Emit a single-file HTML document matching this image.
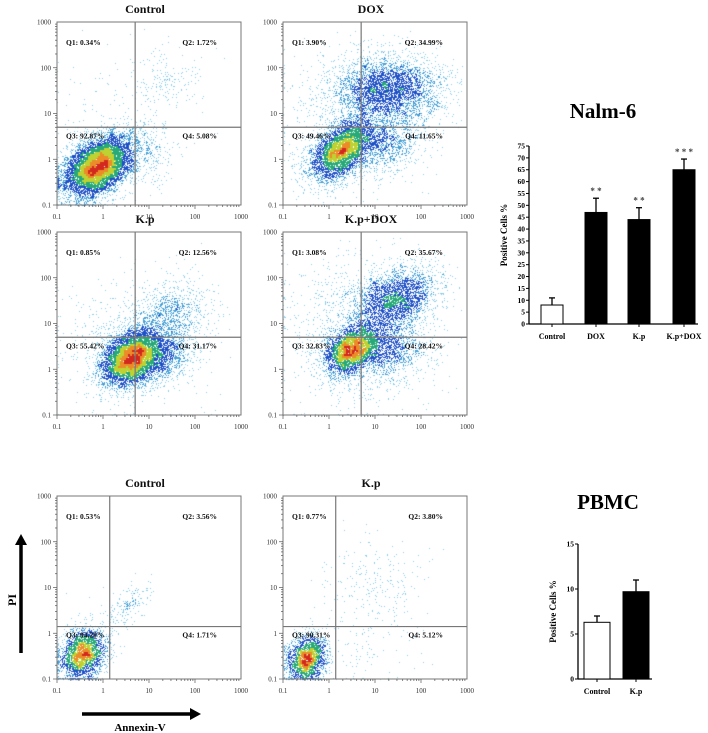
<!DOCTYPE html>
<html><head><meta charset="utf-8"><style>
html,body{margin:0;padding:0;background:#fff;}
#wrap{position:relative;width:708px;height:733px;overflow:hidden;}
canvas,svg{position:absolute;left:0;top:0;}
text{font-family:"Liberation Serif",serif;}
</style></head><body>
<div id="wrap">
<canvas id="dots" width="708" height="733"></canvas>
<svg id="fig" width="708" height="733" xmlns="http://www.w3.org/2000/svg"></svg>
</div>
<script>
// ===== Flow panels data =====
const panelTitles = ["Control","DOX","K.p","K.p+DOX","Control","K.p"];
const panelX = [57,283,57,283,57,283];
const panelY = [22,22,232,232,496,496];
const gateX = [5,5,5,5,1.4,1.4];
const gateY = [5,5,5,5,1.4,1.4];
const q1Labels = ["Q1: 0.34%","Q1: 3.90%","Q1: 0.85%","Q1: 3.08%","Q1: 0.53%","Q1: 0.77%"];
const q2Labels = ["Q2: 1.72%","Q2: 34.99%","Q2: 12.56%","Q2: 35.67%","Q2: 3.56%","Q2: 3.80%"];
const q3Labels = ["Q3: 92.87%","Q3: 49.46%","Q3: 55.42%","Q3: 32.83%","Q3: 94.20%","Q3: 90.31%"];
const q4Labels = ["Q4: 5.08%","Q4: 11.65%","Q4: 31.17%","Q4: 28.42%","Q4: 1.71%","Q4: 5.12%"];
// clusters per panel (log10 coordinates): centre x, centre y, sd x, sd y, correlation, count
const clCx = [[-0.12,1.35,0.9,0.3],[0.25,1.3,1.2,0.6],[0.6,1.5,1.2,0.6],[0.5,1.45,1.3,0.7],[-0.45,0.5,-0.5],[-0.5,1.0,0.8]];
const clCy = [[-0.15,1.7,0.1,1.0],[0.2,1.55,0.4,0.9],[0.25,1.25,0.3,0.6],[0.45,1.55,0.4,0.8],[-0.45,0.55,-0.3],[-0.55,1.2,-0.2]];
const clSx = [[0.36,0.4,0.35,0.8],[0.35,0.6,0.45,0.8],[0.32,0.4,0.4,0.8],[0.3,0.45,0.4,0.8],[0.25,0.3,0.5],[0.22,0.6,0.6]];
const clSy = [[0.32,0.3,0.35,0.8],[0.33,0.35,0.35,0.8],[0.3,0.35,0.3,0.8],[0.27,0.35,0.35,0.8],[0.28,0.3,0.5],[0.25,0.5,0.6]];
const clRho = [[0.4,0,0,0],[0.5,0,0.3,0],[0.3,0.2,0.2,0],[0.4,0.3,0.2,0],[0.2,0.7,0],[0.2,0,0]];
const clN = [[8000,180,350,150],[4000,3200,1000,900],[5500,800,1400,600],[3200,2400,1000,1300],[2400,180,40],[2100,220,120]];

// ===== Bar chart data =====
const nalmCats = ["Control","DOX","K.p","K.p+DOX"];
const nalmVals = [8,47,44,65];
const nalmErr = [3,6,5,4.5];
const nalmStars = ["","* *","* *","* * *"];
const nalmTicks = [0,5,10,15,20,25,30,35,40,45,50,55,60,65,70,75];
const pbmcCats = ["Control","K.p"];
const pbmcVals = [6.3,9.7];
const pbmcErr = [0.7,1.3];
const pbmcTicks = [0,5,10,15];
const xTickLabels = ["0.1","1","10","100","1000"];

const NS="http://www.w3.org/2000/svg";
const svg=document.getElementById('fig');
function el(tag,attrs,parent){const e=document.createElementNS(NS,tag);for(const k in attrs)e.setAttribute(k,attrs[k]);(parent||svg).appendChild(e);return e;}
function txt(s,attrs,parent){const e=el('text',attrs,parent);e.textContent=s;return e;}

const W=184,H=183,DEC=W/4,DECY=H/4;
let seed=12345;function rnd(){seed=(seed*1664525+1013904223)>>>0;return seed/4294967296;}
function gauss(){let u=rnd()||1e-9,v=rnd();return Math.sqrt(-2*Math.log(u))*Math.cos(2*Math.PI*v);}
const ctx=document.getElementById('dots').getContext('2d');

function colorFor(t){
 if(t<0.45)return [140,205,230];
 if(t<0.62)return [70,160,215];
 if(t<0.78)return [30,80,200];
 if(t<0.87)return [40,170,120];
 if(t<0.93)return [190,210,50];
 if(t<0.97)return [235,140,40];
 return [210,40,30];
}

for(let p=0;p<6;p++){
 const x0=panelX[p],y0=panelY[p];
 const g=el('g',{},svg);
 
 
 const sx=v=>x0+(Math.log10(v)+1)*DEC;
 const sy=v=>y0+H-(Math.log10(v)+1)*DECY;
 const sxl=l=>x0+(l+1)*DEC, syl=l=>y0+H-(l+1)*DECY;
 const pts=[];
 for(let c=0;c<clN[p].length;c++){
  const r=clRho[p][c];
  for(let i=0;i<clN[p][c];i++){
   const a=gauss(),b=gauss();
   let lx=clCx[p][c]+clSx[p][c]*a;
   let ly=clCy[p][c]+clSy[p][c]*(r*a+Math.sqrt(1-r*r)*b);
   if(lx<-1)lx=-1+rnd()*0.03; if(ly<-1)ly=-1+rnd()*0.03;
   if(lx>2.9||ly>2.9)continue;
   pts.push([Math.round(sxl(lx)),Math.round(syl(ly))]);
  }
 }
 const grid={};let mx=1;
 for(const q of pts){const k=(q[0]>>1)+','+(q[1]>>1);grid[k]=(grid[k]||0)+1;}
 const dens=q=>{let s=0;for(let dx=-1;dx<=1;dx++)for(let dy=-1;dy<=1;dy++){s+=grid[((q[0]>>1)+dx)+','+((q[1]>>1)+dy)]||0;}return s;};
 const ds=pts.map(dens);for(const d of ds)if(d>mx)mx=d;
 const idx=pts.map((q,i)=>i).sort((a,b)=>ds[a]-ds[b]);
 for(const i of idx){const t=Math.log(1+ds[i])/Math.log(1+mx);const c=colorFor(t);
  ctx.fillStyle='rgb('+c[0]+','+c[1]+','+c[2]+')';ctx.fillRect(pts[i][0],pts[i][1],1,1);}
 const fr=el('rect',{x:x0,y:y0,width:W,height:H,fill:'none',stroke:'#777','stroke-width':1},g);
 
 for(let d=0;d<4;d++){for(let m=1;m<10;m++){const l=d-1+Math.log10(m);
   const len=m===1?4:2;
   el('line',{x1:sxl(l),x2:sxl(l),y1:y0+H,y2:y0+H+len,stroke:'#555','stroke-width':0.7},g);
   el('line',{x1:x0,x2:x0-len,y1:syl(l),y2:syl(l),stroke:'#555','stroke-width':0.7},g);}}
 for(let i=0;i<5;i++){
  const xt=txt(xTickLabels[i],{x:sxl(i-1),y:y0+H+14,'font-size':7,'text-anchor':'middle',fill:'#333','font-family':'Liberation Sans, sans-serif'},g);
  
  const yt=txt(xTickLabels[i],{x:x0-6,y:syl(i-1)+2.5,'font-size':7,'text-anchor':'end',fill:'#333','font-family':'Liberation Sans, sans-serif'},g);
  
 }
 const gx=sx(gateX[p]),gy=sy(gateY[p]);
 const vl=el('line',{x1:gx,x2:gx,y1:y0,y2:y0+H,stroke:'#777','stroke-width':1.2},g);
 
 const hl=el('line',{x1:x0,x2:x0+W,y1:gy,y2:gy,stroke:'#777','stroke-width':1.2},g);
 
 const st={'font-size':7.5,'font-weight':'bold',fill:'#111'};
 const a1=txt(q1Labels[p],Object.assign({x:x0+9,y:y0+23},st),g);
 const a2=txt(q2Labels[p],Object.assign({x:x0+W-24,y:y0+23,'text-anchor':'end'},st),g);
 const a3=txt(q3Labels[p],Object.assign({x:x0+9,y:gy+11},st),g);
 const a4=txt(q4Labels[p],Object.assign({x:x0+W-24,y:gy+11,'text-anchor':'end'},st),g);
 const tt=txt(panelTitles[p],{x:x0+W/2-4,y:y0-9,'font-size':12,'font-weight':'bold','text-anchor':'middle',fill:'#111'},g);
 
}
const ar1=el('g',{});
el('line',{x1:21,x2:21,y1:545,y2:653,stroke:'#000','stroke-width':3.5},ar1);
el('polygon',{points:'15,545 27,545 21,534',fill:'#000'},ar1);
const pil=txt('PI',{x:0,y:0,'font-size':12,'font-weight':'bold',transform:'translate(16,600) rotate(-90)','text-anchor':'middle'},ar1);

const ar2=el('g',{});
el('line',{x1:82,x2:190,y1:714,y2:714,stroke:'#000','stroke-width':3.5},ar2);
el('polygon',{points:'190,708 190,720 201,714',fill:'#000'},ar2);
const anl=txt('Annexin-V',{x:140,y:731,'font-size':11,'font-weight':'bold','text-anchor':'middle'},ar2);


function barChart(name,title,titleX,titleY,axX,y0pix,yTop,maxV,ticks,cats,vals,errs,stars,barXs,barW,labelY,titleSize){
 const g=el('g',{});
 const ys=v=>y0pix-(v/maxV)*(y0pix-yTop);
 const t=txt(title,{x:titleX,y:titleY,'font-size':titleSize,'font-weight':'bold','text-anchor':'middle'},g);
 
 const right=barXs[barXs.length-1]+barW+3;
 el('line',{x1:axX,x2:axX,y1:yTop,y2:y0pix,stroke:'#000','stroke-width':1.3},g);
 el('line',{x1:axX,x2:right,y1:y0pix,y2:y0pix,stroke:'#000','stroke-width':1.3},g);
 for(const v of ticks){el('line',{x1:axX-3,x2:axX,y1:ys(v),y2:ys(v),stroke:'#000','stroke-width':1},g);
  const l=txt(String(v),{x:axX-4,y:ys(v)+2.5,'font-size':7.5,'font-weight':'bold','text-anchor':'end'},g);
  }
 const yl=txt('Positive Cells %',{x:0,y:0,'font-size':9,'font-weight':'bold','text-anchor':'middle',transform:'translate('+(axX-22)+','+((yTop+y0pix)/2)+') rotate(-90)'},g);
 
 for(let i=0;i<cats.length;i++){
  const bx=barXs[i],top=ys(vals[i]),et=ys(vals[i]+errs[i]),cxm=bx+barW/2;
  el('line',{x1:cxm,x2:cxm,y1:et,y2:top,stroke:'#000','stroke-width':1.3},g);
  el('line',{x1:cxm-3,x2:cxm+3,y1:et,y2:et,stroke:'#000','stroke-width':1.3},g);
  const r=el('rect',{x:bx,y:top,width:barW,height:y0pix-top,fill:i===0?'#fff':'#000',stroke:'#000','stroke-width':1},g);
  
  el('line',{x1:cxm,x2:cxm,y1:y0pix,y2:y0pix+3,stroke:'#000','stroke-width':1},g);
  const cl=txt(cats[i],{x:cxm,y:labelY,'font-size':8,'font-weight':'bold','text-anchor':'middle'},g);
  
  if(stars&&stars[i]){const s=txt(stars[i],{x:cxm,y:et-4,'font-size':9,'font-weight':'bold','text-anchor':'middle',fill:'#444'},g);
   }
 }
}
barChart('nalm6-bar-chart','Nalm-6',603,118,529,324,146,75,nalmTicks,nalmCats,nalmVals,nalmErr,nalmStars,[541,585,628,673],22,339,21);
barChart('pbmc-bar-chart','PBMC',608,509,578,679,544,15,pbmcTicks,pbmcCats,pbmcVals,pbmcErr,null,[584,623],26,694,21);
</script>
</body></html>
